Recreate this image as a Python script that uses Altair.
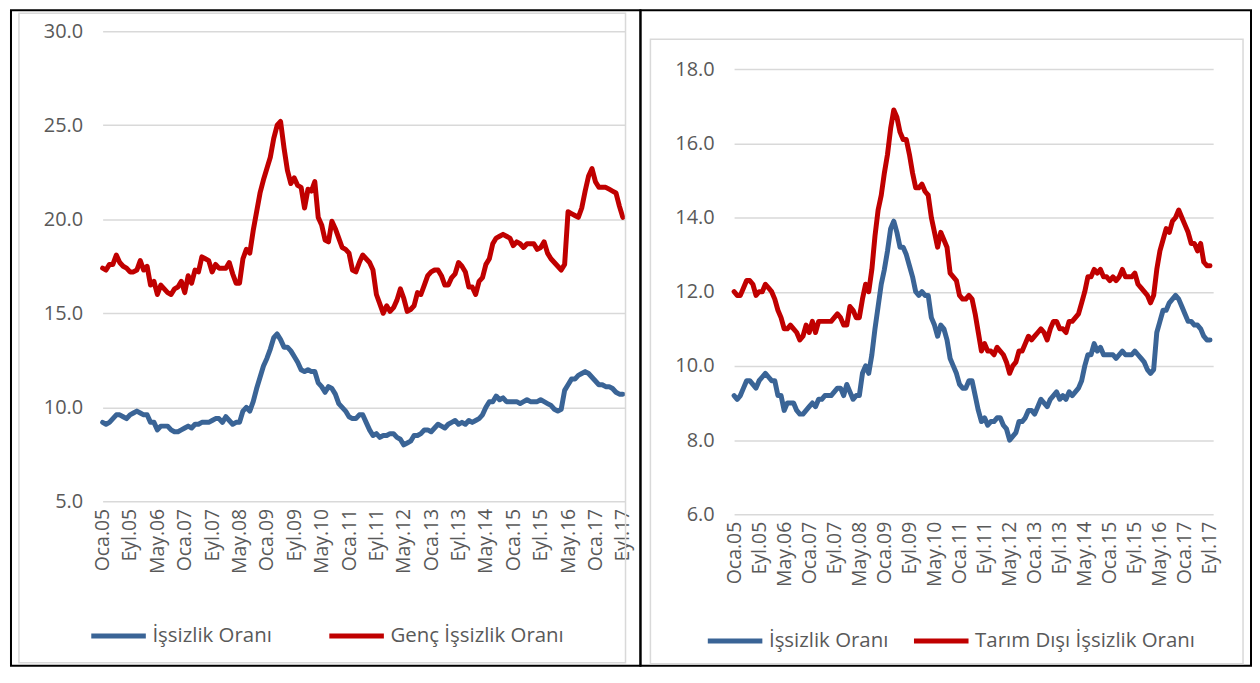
import altair as alt
import pandas as pd

# ---------------- data ----------------
tick_labels = ["Oca.05", "Eyl.05", "May.06", "Oca.07", "Eyl.07", "May.08", "Oca.09",
               "Eyl.09", "May.10", "Oca.11", "Eyl.11", "May.12", "Oca.13", "Eyl.13",
               "May.14", "Oca.15", "Eyl.15", "May.16", "Oca.17", "Eyl.17"]
tick_months = list(range(0, 153, 8))

# monthly, Oca.05 ... Eyl.17 (153 months)
unemployment = [
    9.2, 9.1, 9.2, 9.4, 9.6, 9.6, 9.5, 9.4, 9.6, 9.7, 9.8, 9.7,      # 2005
    9.6, 9.6, 9.2, 9.2, 8.8, 9.0, 9.0, 9.0, 8.8, 8.7, 8.7, 8.8,      # 2006
    8.9, 9.0, 8.9, 9.1, 9.1, 9.2, 9.2, 9.2, 9.3, 9.4, 9.4, 9.2,      # 2007
    9.5, 9.3, 9.1, 9.2, 9.2, 9.8, 10.0, 9.8, 10.3, 11.0, 11.6, 12.2, # 2008
    12.6, 13.1, 13.7, 13.9, 13.6, 13.2, 13.2, 13.0, 12.7, 12.4, 12.0, 11.9,  # 2009
    12.0, 11.9, 11.9, 11.3, 11.1, 10.8, 11.1, 11.0, 10.7, 10.2, 10.0, 9.8,   # 2010
    9.5, 9.4, 9.4, 9.6, 9.6, 9.2, 8.8, 8.5, 8.6, 8.4, 8.5, 8.5,      # 2011
    8.6, 8.6, 8.4, 8.3, 8.0, 8.1, 8.2, 8.5, 8.5, 8.6, 8.8, 8.8,      # 2012
    8.7, 8.9, 9.1, 9.0, 8.9, 9.1, 9.2, 9.3, 9.1, 9.2, 9.1, 9.3,      # 2013
    9.2, 9.3, 9.4, 9.6, 10.0, 10.3, 10.3, 10.6, 10.4, 10.5, 10.3, 10.3,  # 2014
    10.3, 10.3, 10.2, 10.3, 10.4, 10.3, 10.3, 10.3, 10.4, 10.3, 10.2, 10.1,  # 2015
    9.9, 9.8, 9.9, 10.9, 11.2, 11.5, 11.5, 11.7, 11.8, 11.9, 11.8, 11.6,    # 2016
    11.4, 11.2, 11.2, 11.1, 11.1, 11.0, 10.8, 10.7, 10.7,                     # 2017
]
youth_unemployment = [
    17.4, 17.3, 17.6, 17.6, 18.1, 17.7, 17.5, 17.4, 17.2, 17.2, 17.3, 17.8,
    17.3, 17.5, 16.5, 16.7, 16.0, 16.5, 16.3, 16.1, 16.0, 16.3, 16.4, 16.7,
    16.1, 17.0, 16.6, 17.3, 17.2, 18.0, 17.9, 17.8, 17.2, 17.6, 17.4, 17.4,
    17.4, 17.7, 17.1, 16.6, 16.6, 17.9, 18.4, 18.2, 19.4, 20.4, 21.4, 22.1,
    22.7, 23.3, 24.3, 25.0, 25.2, 23.8, 22.6, 21.9, 22.2, 21.8, 21.7, 20.6,
    21.6, 21.5, 22.0, 20.1, 19.7, 18.9, 18.8, 19.9, 19.5, 19.0, 18.5, 18.4,
    18.2, 17.3, 17.2, 17.7, 18.1, 17.9, 17.7, 17.3, 16.0, 15.5, 15.0, 15.4,
    15.1, 15.3, 15.7, 16.3, 15.8, 15.1, 15.2, 15.4, 16.1, 16.0, 16.5, 17.0,
    17.2, 17.3, 17.3, 17.0, 16.5, 16.5, 16.9, 17.1, 17.7, 17.5, 17.2, 16.4,
    16.4, 16.0, 16.7, 16.9, 17.6, 17.9, 18.7, 19.0, 19.1, 19.2, 19.1, 19.0,
    18.6, 18.8, 18.7, 18.5, 18.7, 18.7, 18.7, 18.4, 18.5, 18.8, 18.2, 17.9,
    17.7, 17.5, 17.3, 17.6, 20.4, 20.3, 20.2, 20.1, 20.6, 21.5, 22.3, 22.7,
    22.0, 21.7, 21.7, 21.7, 21.6, 21.5, 21.4, 20.7, 20.1,
]
nonfarm_unemployment = [
    12.0, 11.9, 11.9, 12.1, 12.3, 12.3, 12.2, 11.9, 12.0, 12.0, 12.2, 12.1,
    12.0, 11.8, 11.5, 11.3, 11.0, 11.0, 11.1, 11.0, 10.9, 10.7, 10.8, 11.1,
    10.9, 11.2, 10.9, 11.2, 11.2, 11.2, 11.2, 11.2, 11.3, 11.4, 11.3, 11.1,
    11.1, 11.6, 11.5, 11.3, 11.3, 11.8, 12.2, 12.0, 12.6, 13.5, 14.2, 14.6,
    15.2, 15.7, 16.4, 16.9, 16.7, 16.3, 16.1, 16.1, 15.7, 15.2, 14.8, 14.8,
    14.9, 14.7, 14.6, 14.0, 13.6, 13.2, 13.6, 13.4, 13.2, 12.5, 12.4, 12.3,
    11.9, 11.8, 11.8, 11.9, 11.8, 11.4, 10.9, 10.4, 10.6, 10.4, 10.4, 10.3,
    10.5, 10.4, 10.3, 10.1, 9.8, 10.0, 10.1, 10.4, 10.4, 10.6, 10.8, 10.7,
    10.8, 10.9, 11.0, 10.9, 10.7, 11.0, 11.2, 11.2, 11.0, 11.0, 10.9, 11.2,
    11.2, 11.3, 11.4, 11.7, 12.0, 12.4, 12.4, 12.6, 12.5, 12.6, 12.4, 12.4,
    12.3, 12.4, 12.3, 12.4, 12.6, 12.4, 12.4, 12.4, 12.5, 12.2, 12.1, 12.0,
    11.9, 11.7, 11.9, 12.6, 13.1, 13.4, 13.7, 13.6, 13.9, 14.0, 14.2, 14.0,
    13.8, 13.6, 13.3, 13.3, 13.1, 13.3, 12.8, 12.7, 12.7,
]

s_unemp = "İşsizlik Oranı"
s_youth = "Genç İşsizlik Oranı"
s_nonfarm = "Tarım Dışı İşsizlik Oranı"

left_ticks = [5, 10, 15, 20, 25, 30]
right_ticks = [6, 8, 10, 12, 14, 16, 18]

# ---------------- styling ----------------
BLUE = "#3A6496"
RED = "#C00000"
GRID = "#D9D9D9"
TXT = "#595959"
FONT = "Open Sans"

label_expr = "[" + ",".join("'%s'" % t for t in tick_labels) + "][round(datum.value / 8)]"


def long_df(series):
    rows = []
    for name, vals in series:
        for i, v in enumerate(vals):
            rows.append({"i": i, "v": v, "s": name})
    return pd.DataFrame(rows)


frame_df = pd.DataFrame({"k": [0]})


def frame(x1, x2, y1, y2, color, width):
    return alt.Chart(frame_df).mark_rect(
        fillOpacity=0, stroke=color, strokeWidth=width, clip=False
    ).encode(x=alt.value(x1), x2=alt.value(x2), y=alt.value(y1), y2=alt.value(y2))


def panel(df, names, ydom, yticks, width, height, xmax, lx, ly, colpad, frames):
    x = alt.X("i:Q",
              scale=alt.Scale(domain=[0, xmax], nice=False, zero=False),
              axis=alt.Axis(values=tick_months, labelExpr=label_expr, labelAngle=-90,
                            labelFontSize=19.5, labelColor=TXT, labelFont=FONT,
                            labelPadding=7, labelFlush=False, labelOverlap=False,
                            ticks=False, domain=False, grid=False, title=None))
    y = alt.Y("v:Q",
              scale=alt.Scale(domain=ydom, nice=False, zero=False),
              axis=alt.Axis(values=yticks, format=".1f", labelFontSize=20,
                            labelColor=TXT, labelFont=FONT, labelPadding=20,
                            grid=True, gridColor=GRID, gridWidth=1.5,
                            ticks=False, domain=False, title=None))
    color = alt.Color("s:N",
                      scale=alt.Scale(domain=names, range=[BLUE, RED]),
                      legend=alt.Legend(orient="none", legendX=lx, legendY=ly,
                                        direction="horizontal", title=None,
                                        symbolType="stroke", symbolSize=3000,
                                        symbolStrokeWidth=5, labelFontSize=20.5,
                                        labelColor=TXT, labelFont=FONT,
                                        labelOffset=4, columnPadding=colpad,
                                        padding=0, labelLimit=400))
    lines = alt.Chart(df).mark_line(strokeWidth=5, strokeCap="round",
                                    strokeJoin="round").encode(x=x, y=y, color=color)
    return alt.layer(lines, *frames).properties(width=width, height=height)


left_df = long_df([(s_unemp, unemployment), (s_youth, youth_unemployment)])
right_df = long_df([(s_unemp, unemployment), (s_nonfarm, nonfarm_unemployment)])

left = panel(left_df, [s_unemp, s_youth], [5, 30], left_ticks, 524, 472, 152.5,
             -14, 577, 47,
             [frame(-92, 540, -21, 637, "#000000", 2),
              frame(-84, 525, -18, 634, GRID, 1.5)])
right = panel(right_df, [s_unemp, s_nonfarm], [6, 6 + 485 / 37.25], right_ticks, 481, 485, 153,
              -29, 582, 15,
              [frame(-94, 519, -21, 637, "#000000", 2),
               frame(-84, 511, 8, 635, GRID, 1.5)])

chart = alt.hconcat(left, right, spacing=110, bounds="flush").resolve_scale(
    x="independent", y="independent", color="independent"
).properties(
    padding={"left": 2, "top": 0, "right": 0, "bottom": 0}
).configure_view(strokeWidth=0)

chart.save("out.html", embed_options={"renderer": "svg", "actions": False})
